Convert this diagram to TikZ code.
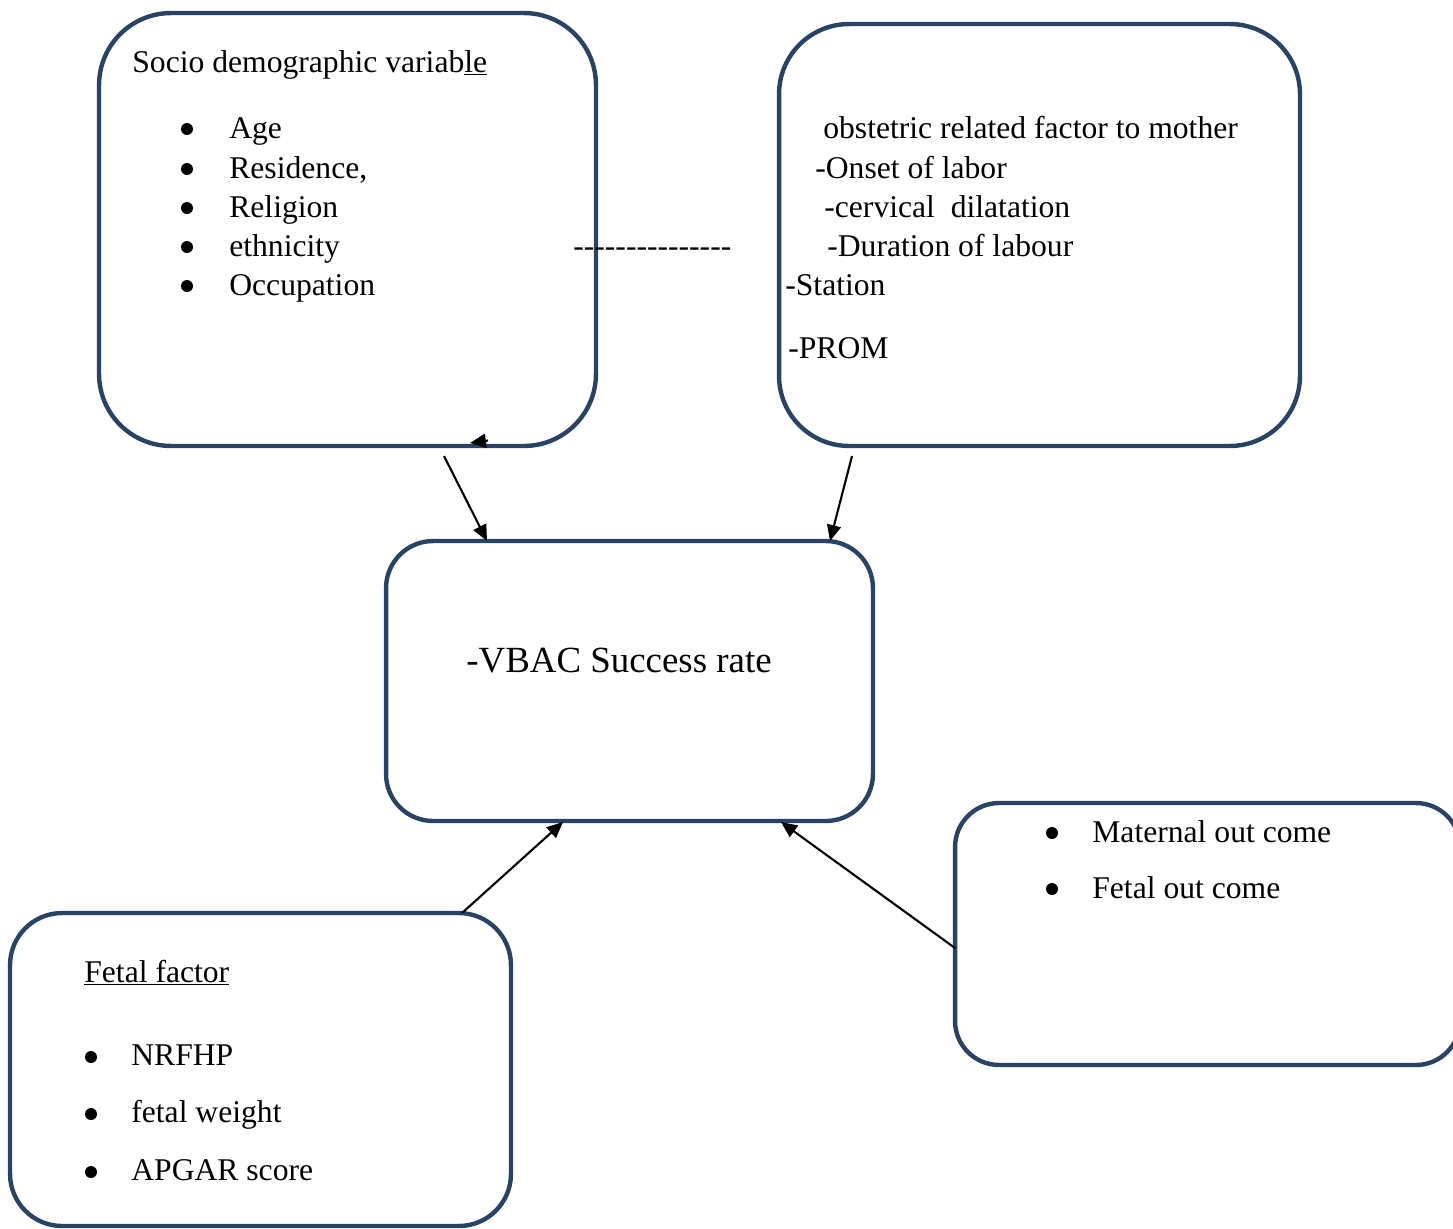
\documentclass[tikz,border=0pt]{standalone}
\usepackage{fontspec}
\setmainfont{Liberation Serif}
\usetikzlibrary{arrows.meta}
\definecolor{boxblue}{RGB}{41,67,101}

\begin{document}
\begin{tikzpicture}[x=0.02cm,y=-0.02cm,
    factorbox/.style={rectangle, draw=boxblue, line width=2.5pt, inner sep=0pt},
    itemtext/.style={anchor=base west, inner sep=0pt, font=\fontsize{18}{22}\selectfont},
    bulletdot/.style={circle, fill=black, minimum size=0.24cm, inner sep=0pt},
    linkarrow/.style={-{Triangle[length=0.32cm,width=0.28cm]}, line width=1.2pt, black}
    ]
    \useasboundingbox (0,0) rectangle (1453,1228);

    % the five boxes
    \node [factorbox, minimum width=9.94cm, minimum height=8.66cm, rounded corners=1.44cm] (socio) at (347.5,229.5) {};
    \node [factorbox, minimum width=10.42cm, minimum height=8.44cm, rounded corners=1.4cm] (obst) at (1039.5,235) {};
    \node [factorbox, minimum width=9.74cm, minimum height=5.6cm, rounded corners=0.94cm] (vbac) at (629.5,681) {};
    \node [factorbox, minimum width=10.02cm, minimum height=6.26cm, rounded corners=1.04cm] (fetal) at (260.5,1069.5) {};
    \node [factorbox, minimum width=10.1cm, minimum height=5.24cm, rounded corners=0.88cm] (outcome) at (1207.5,934) {};

    % socio demographic
    \node [itemtext] (sociotitle) at (132,72) {Socio demographic variab\underline{le}};
    \node [bulletdot] (b1) at (187,129) {};
    \node [itemtext] (age) at (229,138) {Age};
    \node [bulletdot] (b2) at (187,169) {};
    \node [itemtext] (res) at (229,178) {Residence,};
    \node [bulletdot] (b3) at (187,208) {};
    \node [itemtext] (rel) at (229,217) {Religion};
    \node [bulletdot] (b4) at (187,247) {};
    \node [itemtext] (eth) at (229,256) {ethnicity};
    \node [bulletdot] (b5) at (187,286) {};
    \node [itemtext] (occ) at (229,295) {Occupation};

    \node [itemtext] (gap) at (573,256) {-{}-{}-{}-{}-{}-{}-{}-{}-{}-{}-{}-{}-{}-{}-};

    % obstetric
    \node [itemtext] (obsttitle) at (823,138) {obstetric related factor to mother};
    \node [itemtext] (onset) at (815,178) {-Onset of labor};
    \node [itemtext] (cerv) at (824,217) {-cervical~~dilatation};
    \node [itemtext] (dur) at (827,256) {-Duration of labour};
    \node [itemtext] (stat) at (785,295) {-Station};
    \node [itemtext] (prom) at (788,358) {-PROM};

    % outcome
    \node [itemtext, font=\fontsize{21}{25}\selectfont] (rate) at (466,672) {-VBAC Success rate};

    % fetal
    \node [itemtext] (fetaltitle) at (84,982) {\underline{Fetal factor}};
    \node [bulletdot] (b6) at (91,1057) {};
    \node [itemtext] (nrfhp) at (131,1065) {NRFHP};
    \node [bulletdot] (b7) at (91,1114) {};
    \node [itemtext] (fw) at (131,1122) {fetal weight};
    \node [bulletdot] (b8) at (91,1172) {};
    \node [itemtext] (apgar) at (131,1180) {APGAR score};

    % maternal / fetal outcome
    \node [bulletdot] (b9) at (1052,833) {};
    \node [itemtext] (mat) at (1092,842) {Maternal out come};
    \node [bulletdot] (b10) at (1052,889) {};
    \node [itemtext] (fout) at (1092,898) {Fetal out come};

    \coordinate (s1) at (444,456);
    \coordinate (t1) at (487,541);
    \coordinate (s2) at (852,456);
    \coordinate (t2) at (830,541);
    \coordinate (s3) at (462,913);
    \coordinate (t3) at (563,822);
    \coordinate (s4) at (955,948);
    \coordinate (t4) at (781,822);
    \coordinate (s5) at (488,440.5);
    \coordinate (t5) at (470,443);

    \draw [linkarrow] (s1) -- (t1);
    \draw [linkarrow] (s2) -- (t2);
    \draw [linkarrow] (s3) -- (t3);
    \draw [linkarrow] (s4) -- (t4);
    \draw [linkarrow] (s5) -- (t5);
\end{tikzpicture}
\end{document}
